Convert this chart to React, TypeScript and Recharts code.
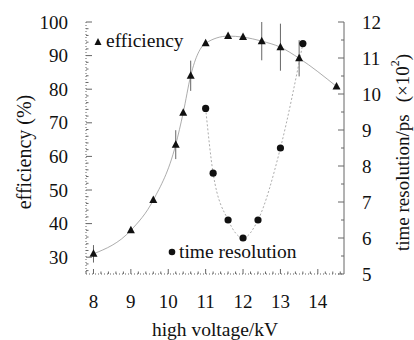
import React from 'react';
import { ComposedChart, Line, XAxis, YAxis, ErrorBar } from 'recharts';

if (typeof document !== 'undefined') document.body.style.margin = '0';

// efficiency (triangles), left axis
const EFF_KV = [8.0, 9.0, 9.6, 10.2, 10.4, 10.6, 11.0, 11.6, 12.0, 12.5, 13.0, 13.5, 14.5];
const EFF_PCT = [31, 38, 47, 63.5, 73, 84, 93.7, 95.8, 95.5, 94.3, 92.5, 89.2, 80.8];
const EFF_ERR = [2.6, 0, 0, 4.3, 0, 4.5, 0, 0, 0, 5.7, 7, 5.4, 0];

// time resolution (circles), right axis, in units of 10^2 ps
const RES_KV = [11.0, 11.2, 11.6, 12.0, 12.4, 13.0, 13.6];
const RES_PS = [9.6, 7.8, 6.5, 6.0, 6.5, 8.5, 11.4];

const KV_TICKS = [8, 9, 10, 11, 12, 13, 14];
const EFF_TICKS = [30, 40, 50, 60, 70, 80, 90, 100];
const RES_TICKS = [5, 6, 7, 8, 9, 10, 11, 12];

const minor = (from: number, to: number, step: number) => {
  const out: number[] = [];
  for (let v = from; v <= to + 1e-9; v += step) out.push(Math.round(v * 100) / 100);
  return out;
};
const merge = (major: number[], minors: number[]) =>
  Array.from(new Set([...major, ...minors])).sort((a, b) => a - b);

const KV_ALL = merge(KV_TICKS, minor(7.8, 14.6, 0.2));
const EFF_ALL = merge(EFF_TICKS, minor(26, 100, 2));
const RES_ALL = merge(RES_TICKS, minor(5, 12, 0.5));

const effData = EFF_KV.map((x, i) => ({ x, y: EFF_PCT[i], err: EFF_ERR[i] }));
const resData = RES_KV.map((x, i) => ({ x, y: RES_PS[i] }));

const FONT = "'Liberation Serif', 'Times New Roman', Times, serif";
const INK = '#111';
const AXIS = '#666';
const dotted = { stroke: AXIS, strokeDasharray: '1 2' };
const txt = { fontFamily: FONT };

function BottomTick({ x, y, payload }: any) {
  const major = KV_TICKS.includes(payload.value);
  return (
    <g>
      <line x1={x} x2={x} y1={y} y2={y - (major ? 5 : 2.5)} stroke={AXIS} />
      {major && (
        <text x={x} y={y + 27} textAnchor="middle" dominantBaseline="central" style={txt} fontSize={19} fill={INK}>
          {payload.value}
        </text>
      )}
    </g>
  );
}

function TopTick({ x, y, payload }: any) {
  const major = KV_TICKS.includes(payload.value);
  return <line x1={x} x2={x} y1={y} y2={y + (major ? 4 : 3)} stroke={AXIS} />;
}

function LeftTick({ x, y, payload }: any) {
  const major = EFF_TICKS.includes(payload.value);
  return (
    <g>
      <line x1={x} x2={x + (major ? 6 : 2.5)} y1={y} y2={y} stroke={AXIS} />
      {major && (
        <text x={x - 18} y={y} textAnchor="end" dominantBaseline="central" style={txt} fontSize={19} fill={INK}>
          {payload.value}
        </text>
      )}
    </g>
  );
}

function RightTick({ x, y, payload }: any) {
  const major = RES_TICKS.includes(payload.value);
  return (
    <g>
      <line x1={x} x2={x - (major ? 6 : 3)} y1={y} y2={y} stroke={AXIS} />
      {major && (
        <text x={x + 18} y={y} textAnchor="start" dominantBaseline="central" style={txt} fontSize={19} fill={INK}>
          {payload.value}
        </text>
      )}
    </g>
  );
}

const Tri = ({ cx, cy }: { cx: number; cy: number }) => (
  <polygon points={`${cx},${cy - 4.5} ${cx - 4},${cy + 3} ${cx + 4},${cy + 3}`} fill={INK} />
);

export default function App() {
  return (
    <div style={{ position: 'relative', width: 414, height: 340, background: '#fff' }}>
      <ComposedChart width={414} height={340} margin={{ top: 22, right: 0, bottom: 0, left: 0 }}>
        <XAxis
          xAxisId="b" type="number" dataKey="x" domain={[7.8, 14.7]} allowDataOverflow
          ticks={KV_ALL} interval={0} height={66} tickSize={0} tickMargin={0}
          tickLine={false} axisLine={dotted} tick={(p: any) => <BottomTick {...p} />}
        />
        <XAxis
          xAxisId="t" orientation="top" type="number" dataKey="x" domain={[7.8, 14.7]} allowDataOverflow
          ticks={KV_ALL} interval={0} height={0} tickSize={0} tickMargin={0}
          tickLine={false} axisLine={dotted} tick={(p: any) => <TopTick {...p} />}
        />
        <YAxis
          yAxisId="L" type="number" domain={[25, 100]} allowDataOverflow width={86}
          ticks={EFF_ALL} interval={0} tickSize={0} tickMargin={0}
          tickLine={false} axisLine={dotted} tick={(p: any) => <LeftTick {...p} />}
        />
        <YAxis
          yAxisId="R" orientation="right" type="number" domain={[5, 12]} allowDataOverflow width={70}
          ticks={RES_ALL} interval={0} tickSize={0} tickMargin={0}
          tickLine={false} axisLine={{ stroke: AXIS }} tick={(p: any) => <RightTick {...p} />}
        />
        <Line
          xAxisId="b" yAxisId="L" data={effData} dataKey="y" type="monotone"
          stroke="#888" strokeWidth={0.7} isAnimationActive={false}
          dot={(p: any) => <Tri key={`t${p.index}`} cx={p.cx} cy={p.cy} />}
          activeDot={false}
        >
          <ErrorBar dataKey="err" width={0} stroke="#666" strokeWidth={1} direction="y" />
        </Line>
        <Line
          xAxisId="b" yAxisId="R" data={resData} dataKey="y" type="monotone"
          stroke="#888" strokeWidth={0.7} strokeDasharray="2 2" isAnimationActive={false}
          dot={(p: any) => <circle key={`c${p.index}`} cx={p.cx} cy={p.cy} r={3.6} fill={INK} />}
          activeDot={false}
        />
      </ComposedChart>
      <svg width={414} height={340} style={{ position: 'absolute', left: 0, top: 0, pointerEvents: 'none' }}>
        <g style={txt} fill={INK}>
          <polygon points="98,38 94.5,45 101.5,45" />
          <text x={106} y={47} fontSize={19.5}>efficiency</text>
          <circle cx={172} cy={252} r={3.3} />
          <text x={179} y={258} fontSize={19.5}>time resolution</text>
          <text x={215} y={336} fontSize={19.5} textAnchor="middle">high voltage/kV</text>
          <text x={24} y={152} fontSize={20} textAnchor="middle" dominantBaseline="central" transform="rotate(-90 24 152)">
            efficiency (%)
          </text>
          <text x={402} y={251} fontSize={19} textAnchor="start" dominantBaseline="central" transform="rotate(-90 402 251)">
            time resolution/ps
            <tspan dx={12}>(×10</tspan>
            <tspan dy={-7} fontSize={12}>2</tspan>
            <tspan dy={7}>)</tspan>
          </text>
        </g>
      </svg>
    </div>
  );
}
